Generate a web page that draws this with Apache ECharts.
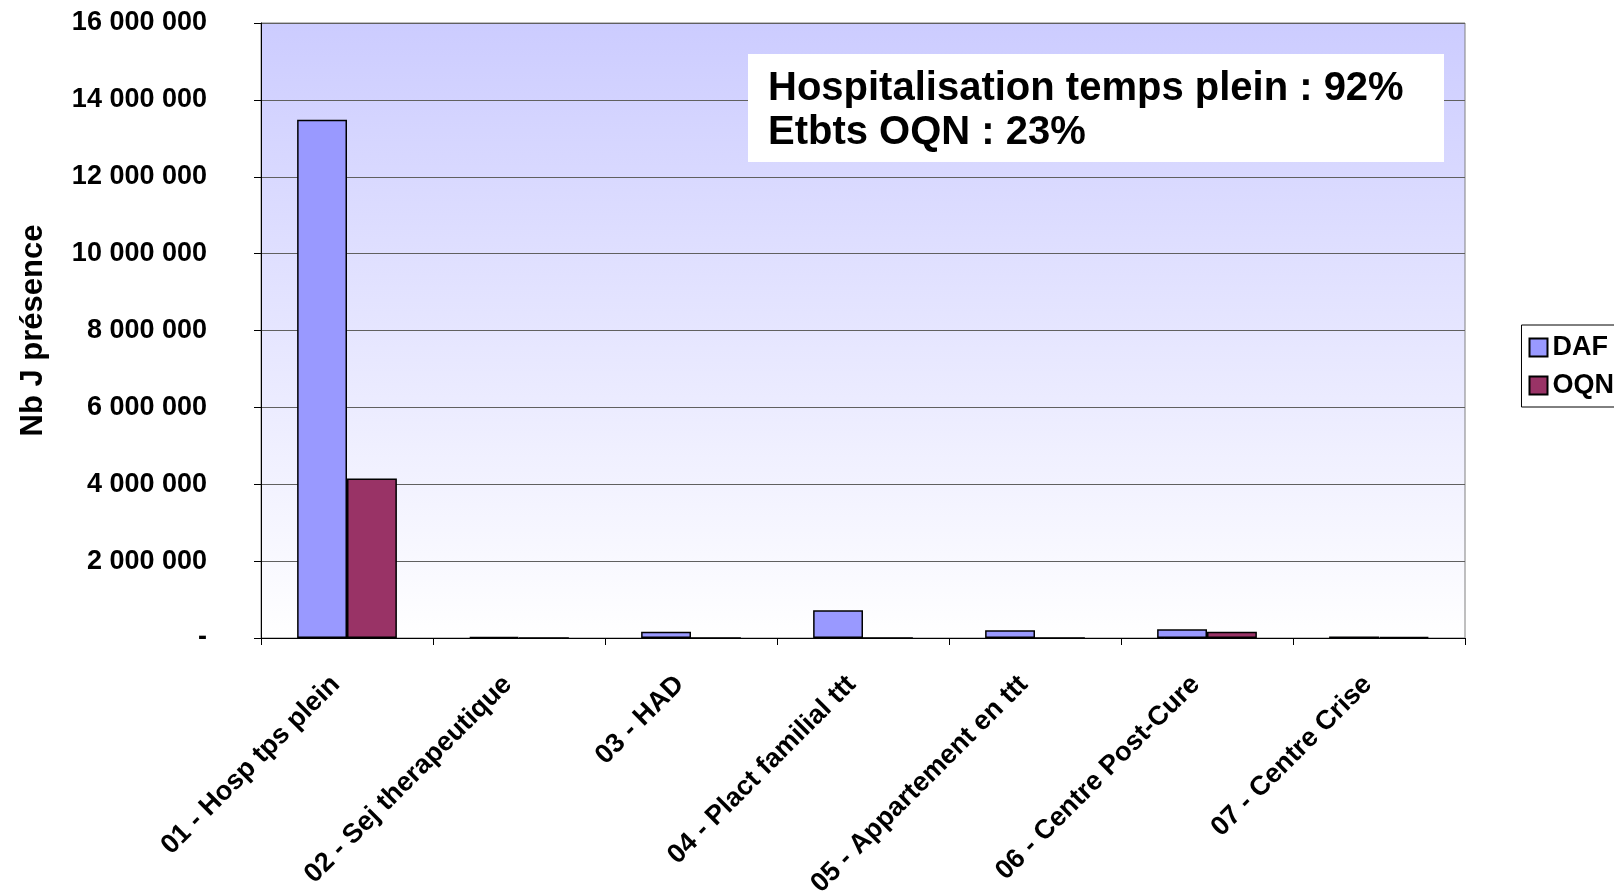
<!DOCTYPE html>
<html>
<head>
<meta charset="utf-8">
<script src="https://cdn.jsdelivr.net/npm/echarts@6/dist/echarts.min.js"></script>
<style>html,body{margin:0;padding:0;background:#fff}#c{width:1614px;height:891px}</style>
</head>
<body>
<div id="c"></div>
<script>
const categories = ['01 - Hosp tps plein','02 - Sej therapeutique','03 - HAD','04 - Plact familial ttt','05 - Appartement en ttt','06 - Centre Post-Cure','07 - Centre Crise'];
const dafValues = [13480000, 30000, 165000, 720000, 200000, 226000, 40000];
const oqnValues = [4150000, 0, 0, 0, 0, 165000, 25000];
const seriesNames = ['DAF', 'OQN'];
const annotationLines = ['Hospitalisation temps plein : 92%', 'Etbts OQN : 23%'];
const yAxisTitle = 'Nb J présence';

const FONT = '"Liberation Sans", Arial, sans-serif';
const chart = echarts.init(document.getElementById('c'));
function fmt(v){
  if (v === 0) return '-';
  return String(v).replace(/\B(?=(\d{3})+(?!\d))/g, ' ');
}
chart.setOption({
  animation: false,
  textStyle: {fontFamily: FONT},
  grid: {
    left: 261, right: 149, top: 23, bottom: 253,
    containLabel: false, outerBoundsMode: 'none',
    show: true,
    borderColor: '#808080', borderWidth: 1,
    backgroundColor: {type: 'linear', x: 0, y: 0, x2: 0, y2: 1,
      colorStops: [{offset: 0, color: '#ccccff'}, {offset: 1, color: '#ffffff'}]}
  },
  legend: {
    orient: 'vertical', right: -4, top: 325,
    data: seriesNames,
    borderColor: '#000', borderWidth: 1,
    padding: [9, 4, 8, 7],
    itemWidth: 18, itemHeight: 18, itemGap: 11,
    icon: 'rect',
    textStyle: {fontFamily: FONT, fontWeight: 'bold', fontSize: 27, color: '#000'}
  },
  xAxis: {
    type: 'category', data: categories,
    axisLine: {lineStyle: {color: '#000', width: 1}},
    axisTick: {show: true, length: 7, lineStyle: {color: '#000'}},
    axisLabel: {rotate: 45, interval: 0, fontWeight: 'bold', fontSize: 27, color: '#000', fontFamily: FONT, margin: 31, padding: [0, 16, 0, 0]}
  },
  yAxis: {
    type: 'value', min: 0, max: 16000000, interval: 2000000,
    name: yAxisTitle, nameLocation: 'middle', nameGap: 212, nameRotate: 90,
    nameTextStyle: {fontWeight: 'bold', fontSize: 31, color: '#000', fontFamily: FONT},
    axisLine: {show: true, lineStyle: {color: '#000', width: 1}},
    axisTick: {show: true, length: 7, lineStyle: {color: '#000'}},
    splitLine: {lineStyle: {color: '#606060', width: 1}},
    axisLabel: {formatter: fmt, fontWeight: 'bold', fontSize: 27, color: '#000', fontFamily: FONT, margin: 54}
  },
  series: [
    {name: seriesNames[0], type: 'bar', data: dafValues, barGap: '0%', barCategoryGap: '42%',
     itemStyle: {color: '#9999ff', borderColor: '#000', borderWidth: 1.5}},
    {name: seriesNames[1], type: 'bar', data: oqnValues,
     itemStyle: {color: '#993366', borderColor: '#000', borderWidth: 1.5}}
  ],
  graphic: [
    {type: 'rect', left: 748, top: 54, shape: {width: 696, height: 108}, style: {fill: '#fff'}, z: 100},
    {type: 'text', left: 768, top: 69, z: 101,
     style: {text: annotationLines[0], font: 'bold 40px ' + FONT, fill: '#000'}},
    {type: 'text', left: 768, top: 113, z: 101,
     style: {text: annotationLines[1], font: 'bold 40px ' + FONT, fill: '#000'}}
  ]
});
</script>
</body>
</html>
